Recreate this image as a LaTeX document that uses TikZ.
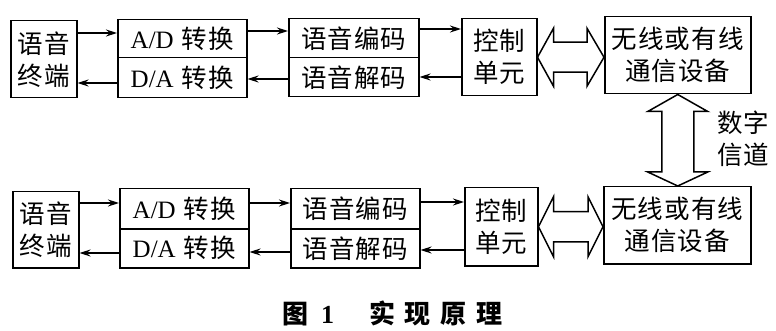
\documentclass[tikz,border=0pt]{standalone}
\usepackage{fontspec}
\setmainfont{Liberation Serif}
\newfontfamily\cjk{Noto Sans CJK SC}[LetterSpace=4]
\newfontfamily\cjkcap{Noto Sans CJK SC}
\usetikzlibrary{arrows.meta,calc}
\begin{document}
\begin{tikzpicture}[x=1pt,y=-1pt,
  box/.style={draw,line width=1.5pt,inner sep=0pt,anchor=north west,align=center,
    font=\fontsize{25.5}{32}\selectfont\cjk},
  arr/.style={line width=1.4pt,-{Stealth[length=11pt,width=7pt]}},
  hollow/.style={draw,line width=1.5pt,line join=miter,fill=white}]
\useasboundingbox (0,0) rectangle (776,331);
% top row
\node[box,minimum width=66pt,minimum height=77pt] (term1) at (10,20) {语音\\终端};
\node[box,minimum width=129pt,minimum height=38pt] (ad1) at (117,19) {{\rmfamily\fontsize{25}{30}\selectfont A/D\hspace{8pt}}转换};
\node[box,minimum width=129pt,minimum height=40pt] (da1) at (117,57) {{\rmfamily\fontsize{25}{30}\selectfont D/A\hspace{8pt}}转换};
\node[box,minimum width=130pt,minimum height=39pt] (enc1) at (288,18) {语音编码};
\node[box,minimum width=130pt,minimum height=39pt] (dec1) at (288,57) {语音解码};
\node[box,minimum width=75pt,minimum height=77pt] (ctl1) at (461,18) {控制\\单元};
\node[box,minimum width=146pt,minimum height=77pt] (wl1) at (604,16) {无线或有线\\通信设备};
% bottom row
\node[box,minimum width=66pt,minimum height=76pt] (term2) at (12,191) {语音\\终端};
\node[box,minimum width=129pt,minimum height=40pt] (ad2) at (119,188) {{\rmfamily\fontsize{25}{30}\selectfont A/D\hspace{8pt}}转换};
\node[box,minimum width=129pt,minimum height=39pt] (da2) at (119,228) {{\rmfamily\fontsize{25}{30}\selectfont D/A\hspace{8pt}}转换};
\node[box,minimum width=129pt,minimum height=40pt] (enc2) at (290,188) {语音编码};
\node[box,minimum width=129pt,minimum height=39pt] (dec2) at (290,228) {语音解码};
\node[box,minimum width=73pt,minimum height=78pt] (ctl2) at (464,187) {控制\\单元};
\node[box,minimum width=147pt,minimum height=77pt] (wl2) at (603,186) {无线或有线\\通信设备};
% thin arrows top
\draw[arr] (term1.east |- 0,33) -- (ad1.west |- 0,33);
\draw[arr] (ad1.east |- 0,31) -- (enc1.west |- 0,31);
\draw[arr] (enc1.east |- 0,29) -- (ctl1.west |- 0,29);
\draw[arr] (dec1.west |- 0,79) -- (da1.east |- 0,79);
\draw[arr] (da1.west |- 0,83) -- (term1.east |- 0,83);
\draw[arr] (ctl1.west |- 0,77) -- (dec1.east |- 0,77);
% thin arrows bottom
\draw[arr] (term2.east |- 0,203) -- (ad2.west |- 0,203);
\draw[arr] (ad2.east |- 0,203) -- (enc2.west |- 0,203);
\draw[arr] (enc2.east |- 0,202) -- (ctl2.west |- 0,202);
\draw[arr] (dec2.west |- 0,252) -- (da2.east |- 0,252);
\draw[arr] (da2.west |- 0,253) -- (term2.east |- 0,253);
\draw[arr] (ctl2.west |- 0,250) -- (dec2.east |- 0,250);
% hollow horizontal double arrows
\coordinate (h1L) at (ctl1.east);
\coordinate (h1R) at (wl1.west |- ctl1.east);
\draw[hollow] (h1L) -- ++(16,-29) -- ++(0,14) -- ($(h1R)+(-17,-15)$) -- ++(0,-14) -- (h1R)
  -- ++(-17,29) -- ++(0,-14) -- ($(h1L)+(16,15)$) -- ++(0,14) -- cycle;
\coordinate (h2L) at (ctl2.east);
\coordinate (h2R) at (wl2.west |- ctl2.east);
\draw[hollow] (h2L) -- ++(15,-30) -- ++(0,15) -- ($(h2R)+(-15,-15)$) -- ++(0,-15) -- (h2R)
  -- ++(-15,30) -- ++(0,-15) -- ($(h2L)+(15,15)$) -- ++(0,15) -- cycle;
% vertical hollow double arrow
\coordinate (vT) at (wl1.south);
\coordinate (vB) at (wl1.south |- wl2.north);
\draw[hollow] (vT) -- ++(30,17) -- ++(-14,0) -- ($(vB)+(16,-14)$) -- ++(14,0) -- (vB)
  -- ++(-30,-14) -- ++(14,0) -- ($(vT)+(-16,17)$) -- ++(-14,0) -- cycle;
\node[align=center,font=\fontsize{25.5}{32}\selectfont\cjk,inner sep=0pt] (dig) at (743,139) {数字\\信道};
% caption
\node[anchor=west,inner sep=0pt,font=\fontsize{26}{28}\selectfont] (cap) at (282,313)
  {{\cjkcap\bfseries 图}\hspace{13pt}{\bfseries 1}\hspace{35pt}{\cjkcap\bfseries 实\hspace{9.7pt}现\hspace{9.7pt}原\hspace{9.7pt}理}};
\end{tikzpicture}
\end{document}
